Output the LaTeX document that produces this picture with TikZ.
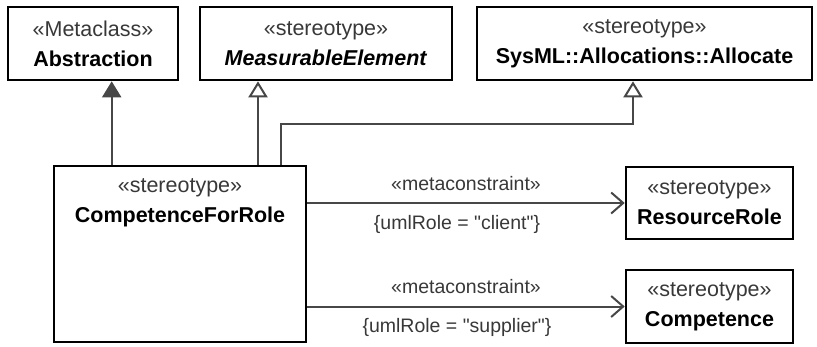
\documentclass[tikz,border=0pt]{standalone}
\usepackage{fontspec}
\setmainfont{Liberation Sans}
\usepackage{tikz}
\usetikzlibrary{arrows.meta,positioning,calc}

\definecolor{linegray}{HTML}{474747}
\definecolor{stereogray}{HTML}{383838}

\newcommand{\stereo}[1]{{\color{stereogray}«#1»}}

\tikzset{
  umlbox/.style={draw=black, line width=2.6pt, align=center, inner sep=0pt,
                 font=\fontsize{21.5}{30}\selectfont},
  edgelabel/.style={font=\fontsize{19.5}{24}\selectfont, text=stereogray},
  genline/.style={draw=linegray, line width=2pt,
                  -{Triangle[open, length=16pt, width=19pt, fill=white]}},
  extline/.style={draw=linegray, line width=2pt,
                  -{Triangle[length=16pt, width=19pt, fill=linegray]}},
  metaline/.style={draw=linegray, line width=2pt,
                   -{Straight Barb[length=12pt, width=21pt]}},
}

\begin{document}
\begin{tikzpicture}[x=1pt, y=-1pt]

\useasboundingbox (0,0) rectangle (817,346);

% metaclasses and stereotypes on top
\node[umlbox, minimum width=170pt, minimum height=73pt] (abstraction) at (93,43.5)
  {\stereo{Metaclass}\\ \textbf{Abstraction}};
\node[umlbox, minimum width=252pt, minimum height=73pt] (measurable) at (326,43.5)
  {\stereo{stereotype}\\ \textbf{\textit{MeasurableElement}}};
\node[umlbox, minimum width=335pt, minimum height=73pt] (allocate) at (644.5,43.5)
  {\stereo{stereotype}\\ \textbf{SysML::Allocations::Allocate}};

% the stereotype itself
\node[umlbox, minimum width=252pt, minimum height=176pt] (cfr) at (180,254) {};
\node[umlbox, draw=none, anchor=north] (cfrtext) at ([yshift=-13pt]cfr.north)
  {\stereo{stereotype}\\ \textbf{CompetenceForRole}};

% targets of the metaconstraints
\node[umlbox, minimum width=167pt, minimum height=72pt] (resrole) at (709.5,203)
  {\stereo{stereotype}\\ \textbf{ResourceRole}};
\node[umlbox, minimum width=167pt, minimum height=73pt] (competence) at (709.5,306.5)
  {\stereo{stereotype}\\ \textbf{Competence}};

% extension and generalizations
\draw[extline] ([xshift=59pt]cfr.north west) -- ([xshift=59pt]cfr.north west |- abstraction.south);
\draw[genline] ([xshift=78pt]cfr.north) -- ([xshift=78pt]cfr.north |- measurable.south);
\coordinate (bend) at ([xshift=101pt]cfr.north |- 0,124);
\draw[genline] ([xshift=101pt]cfr.north) -- (bend) -| ([xshift=-11.5pt]allocate.south);

% metaconstraints
\draw[metaline] (cfr.east |- resrole.west) -- (resrole.west)
  node[edgelabel, midway, above=8pt] {«metaconstraint»}
  node[edgelabel, midway, below=8pt, xshift=-9pt] {\{umlRole = \textquotedbl client\textquotedbl\}};
\draw[metaline] (cfr.east |- competence.west) -- (competence.west)
  node[edgelabel, midway, above=8pt] {«metaconstraint»}
  node[edgelabel, midway, below=8pt, xshift=-9pt] {\{umlRole = \textquotedbl supplier\textquotedbl\}};

\end{tikzpicture}
\end{document}
